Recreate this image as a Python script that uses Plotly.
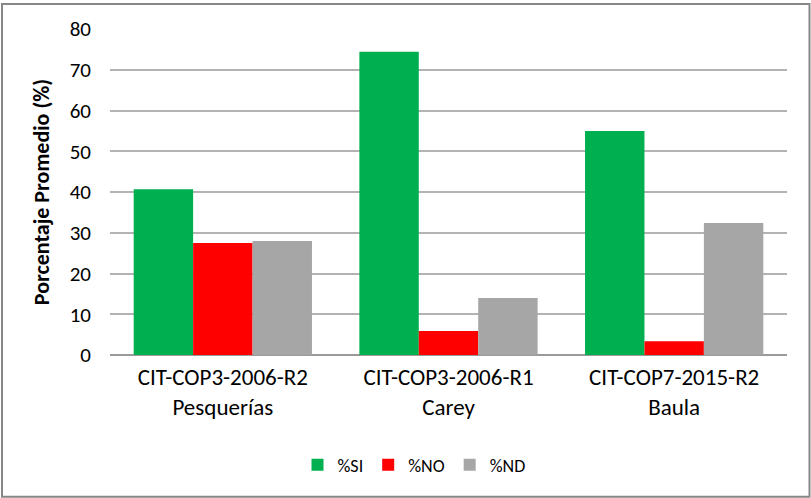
import plotly.graph_objects as go

categories = ["CIT-COP3-2006-R2<br>Pesquerías", "CIT-COP3-2006-R1<br>Carey", "CIT-COP7-2015-R2<br>Baula"]
series_names = ["%SI", "%NO", "%ND"]
si_values = [40.7, 74.4, 55.0]
no_values = [27.5, 5.9, 3.4]
nd_values = [28.0, 14.0, 32.4]
colors = ["#00B050", "#FF0000", "#A6A6A6"]
y_ticks = [0, 10, 20, 30, 40, 50, 60, 70, 80]

FONT = "Carlito, Calibri, 'Liberation Sans', sans-serif"

fig = go.Figure()
for name, vals, col in zip(series_names, [si_values, no_values, nd_values], colors):
    fig.add_trace(go.Bar(name=name, x=categories, y=vals, marker_color=col,
                         marker_line_width=0))

W, H = 811, 498
l, r, t, b = 110, 24, 29, 143
pw, ph = W - l - r, H - t - b

def px_to_paper_x(px):
    return (px - l) / pw

def px_to_paper_y(py):
    return (H - b - py) / ph

fig.add_shape(type="rect", xref="paper", yref="paper",
              x0=px_to_paper_x(2), x1=px_to_paper_x(809.5),
              y0=px_to_paper_y(496.8), y1=px_to_paper_y(4),
              line=dict(color="#878787", width=2), fillcolor="rgba(0,0,0,0)", layer="below")

fig.update_layout(
    width=W, height=H,
    margin=dict(l=l, r=r, t=t, b=b, autoexpand=False),
    paper_bgcolor="white", plot_bgcolor="white",
    barmode="group", bargap=0.21, bargroupgap=0,
    font=dict(family=FONT, color="#000000"),
    showlegend=True,
    legend=dict(orientation="h", x=px_to_paper_x(414), xanchor="center",
                y=px_to_paper_y(465), yanchor="middle",
                font=dict(size=18, family=FONT), itemwidth=30, traceorder="normal",
                tracegroupgap=0),
    xaxis=dict(showgrid=False, tickfont=dict(size=23, family=FONT, color="#000"),
               ticks="", showline=False, ticklabelstandoff=6),
    yaxis=dict(range=[0, 80], tickvals=y_ticks, showgrid=True, gridcolor="#b3b3b3",
               gridwidth=1.5, zeroline=True, zerolinecolor="#9a9a9a", zerolinewidth=1.5,
               tickfont=dict(size=21, family=FONT, color="#000"), ticks="",
               ticklabelstandoff=18,
               title=dict(text="<b>Porcentaje Promedio (%)</b>", standoff=14,
                          font=dict(size=22, family=FONT, color="#000"))),
)

fig.write_html("out.html", config={"displayModeBar": False},
               post_script="document.body.style.margin='0';document.body.style.overflow='hidden';")
